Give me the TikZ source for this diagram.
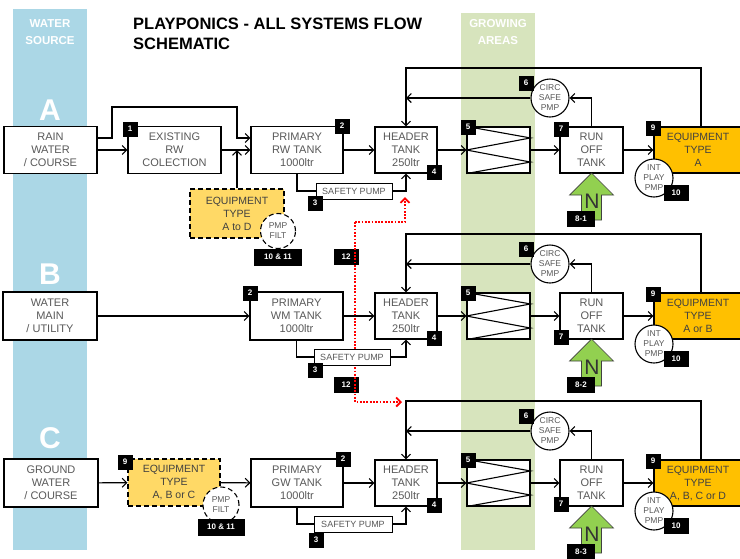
\documentclass[tikz,border=0pt]{standalone}
\usepackage{fontspec}
\setmainfont{Liberation Sans}
\usetikzlibrary{arrows.meta}
\definecolor{srcblue}{HTML}{ABD7E6}
\definecolor{growgreen}{HTML}{D7E4BD}
\definecolor{eqorange}{HTML}{FFC000}
\definecolor{eqlight}{HTML}{FFD966}
\definecolor{ngreen}{HTML}{92D050}
\definecolor{txtgrey}{HTML}{595959}
\begin{document}
\begin{tikzpicture}[x=1pt,y=-1pt,
    box/.style={draw,line width=1.1pt,fill=white,align=center,inner sep=0pt,text=txtgrey,font=\fontsize{11}{13}\selectfont},
    eqbox/.style={box,fill=eqorange,text=black!75,font=\fontsize{10.5}{13}\selectfont},
    dashbox/.style={box,fill=eqlight,text=black!75,dash pattern=on 5pt off 3pt,font=\fontsize{10.5}{13}\selectfont},
    safebox/.style={box,line width=0.9pt,font=\fontsize{9}{10}\selectfont,minimum height=16pt},
    pump/.style={circle,draw,line width=1.1pt,fill=white,align=center,inner sep=0pt,minimum size=38pt,text=txtgrey,font=\fontsize{8.5}{10}\selectfont},
    badge/.style={fill=black,text=white,inner sep=0pt,minimum width=15pt,minimum height=15pt,font=\bfseries\fontsize{8}{9}\selectfont},
    wbadge/.style={badge,minimum width=25pt,minimum height=16pt},
    flow/.style={line width=1.1pt,-{Straight Barb[length=4.5pt,width=9pt]}},
    pipe/.style={line width=1.1pt},
    redflow/.style={red,line width=1.8pt,dash pattern=on 1.8pt off 1.5pt,-{Straight Barb[length=4.5pt,width=9pt]}},
    band/.style={text=white,align=center,font=\bfseries\fontsize{11.5}{17}\selectfont},
    bigletter/.style={text=white,font=\bfseries\fontsize{30}{30}\selectfont}
  ]
  \useasboundingbox (0,0) rectangle (740,558);
  \fill[srcblue] (13,9) rectangle (87,550);
  \fill[growgreen] (461,13) rectangle (535,550);
  \node[band] (srctitle) at (50,32) {WATER\\SOURCE};
  \node[band] (growtitle) at (498,32) {GROWING\\AREAS};
  \node[anchor=west,align=left,inner sep=0pt,font=\bfseries\fontsize{16.5}{20}\selectfont] (title) at (133,34) {PLAYPONICS - ALL SYSTEMS FLOW\\SCHEMATIC};
  \node[bigletter] (letA) at (50,110) {A};
  \node[bigletter] (letB) at (50,274) {B};
  \node[bigletter] (letC) at (50,438) {C};

  \foreach \r/\y/\eqtxt/\sev/\n in {A/150/A/-21/1, B/316/A or B/21/2, C/483/{A, B, C or D}/21/3} {
    \node[box,minimum width=62pt,minimum height=46pt] (hdr\r) at (406,\y) {HEADER\\TANK\\250ltr};
    \node[box,minimum width=63pt,minimum height=46pt] (grow\r) at (498.5,\y) {};
    \draw[pipe] (grow\r.north west) -- ([yshift=-11.5pt]grow\r.north east) -- (grow\r.west)
      -- ([yshift=11.5pt]grow\r.south east) -- (grow\r.south west);
    \node[box,minimum width=63pt,minimum height=46pt] (run\r) at (591.5,\y) {RUN\\OFF\\TANK};
    \node[eqbox,minimum width=88pt,minimum height=46pt] (eq\r) at (698,\y) {EQUIPMENT\\TYPE\\\eqtxt};
    \node[pump] (circ\r) at (550,{\y-52}) {CIRC\\SAFE\\PMP};
    \node[pump] (int\r) at (654,{\y+28}) {INT\\PLAY\\PMP};
    \coordinate (loop\r) at (406,{\y-82});
    \draw[flow] (hdr\r) -- (grow\r);
    \draw[flow] (grow\r) -- (run\r);
    \draw[flow] (run\r) -- (eq\r);
    \draw[flow] (run\r.north) |- (circ\r.east);
    \draw[flow] (circ\r.west) -- (hdr\r.north |- circ\r.west);
    \draw[flow] ([xshift=3pt]eq\r.north) |- (loop\r) -- (hdr\r.north);
    \draw[fill=ngreen,draw=black!75,line width=0.7pt] (591.5,{\y+23}) -- ++(22,22) -- ++(-12,0) -- ++(0,25)
      -- ++(-20,0) -- ++(0,-25) -- ++(-12,0) -- cycle;
    \node[text=black!80,font=\fontsize{21}{21}\selectfont] (n\r) at (592,{\y+51}) {N};
    \node[badge] (b4\r) at (434,{\y+22}) {4};
    \node[badge] (b5\r) at (468,{\y-23}) {5};
    \node[badge] (b6\r) at (526,{\y-67}) {6};
    \node[badge] (b7\r) at (561,{\y+\sev}) {7};
    \node[badge] (b9\r) at (653,{\y-22}) {9};
    \node[wbadge] (b10\r) at (676,{\y+43}) {10};
    \node[wbadge,minimum width=28pt] (b8\r) at (581,{\y+69}) {8-\n};
  }

  \node[wbadge] (b12a) at (346,257) {12};
  \node[wbadge] (b12b) at (346,385) {12};
  \coordinate (redsplit) at (355,222);
  \coordinate (redA) at (405,197);
  \coordinate (redC) at (402,402);
  \draw[redflow] (redsplit) -| (redA);
  \draw[redflow] (redsplit) |- (redC);

  \node[box,minimum width=93pt,minimum height=47pt] (srcA) at (50.5,150) {RAIN\\WATER\\/ COURSE};
  \node[box,minimum width=93pt,minimum height=47pt] (exist) at (174.5,150) {EXISTING\\RW\\COLECTION};
  \node[box,minimum width=92pt,minimum height=47pt] (primA) at (297,150) {PRIMARY\\RW TANK\\1000ltr};
  \node[safebox,minimum width=76pt] (safeA) at (354,191) {SAFETY PUMP};
  \node[dashbox,minimum width=94pt,minimum height=49pt] (eqAD) at (237,213.5) {EQUIPMENT\\TYPE\\A to D};
  \node[pump,dash pattern=on 5pt off 3pt,minimum size=35pt] (filtA) at (278,231) {PMP\\FILT};
  \draw[flow] (srcA) -- (exist);
  \draw[flow] ([yshift=12pt]srcA.east) -- (112,138) -- (112,107) -- (237,107) -- (237,138) -- ([yshift=12pt]primA.west);
  \draw[flow] (exist) -- (primA);
  \draw[flow] (eqAD.north) -- (eqAD.north |- exist.east);
  \draw[flow] (primA) -- (hdrA);
  \draw[pipe] (primA.south) |- (safeA.west);
  \draw[flow] (safeA.east) -| (hdrA.south);
  \node[badge] (b1) at (130,129) {1};
  \node[badge] (b2A) at (342,126) {2};
  \node[badge] (b3A) at (315,203) {3};
  \node[wbadge,minimum width=48pt,minimum height=17pt] (b1011A) at (278,257) {10 \& 11};

  \node[box,minimum width=94pt,minimum height=48pt] (srcB) at (50,316) {WATER\\MAIN\\/ UTILITY};
  \node[box,minimum width=93pt,minimum height=48pt] (primB) at (296.5,316) {PRIMARY\\WM TANK\\1000ltr};
  \node[safebox,minimum width=76pt] (safeB) at (352,357) {SAFETY PUMP};
  \draw[flow] (srcB) -- (primB);
  \draw[flow] (primB) -- (hdrB);
  \draw[pipe] (primB.south) |- (safeB.west);
  \draw[flow] (safeB.east) -| (hdrB.south);
  \node[badge] (b2B) at (250,293) {2};
  \node[badge] (b3B) at (315,370) {3};

  \node[box,minimum width=94pt,minimum height=48pt] (srcC) at (51,483) {GROUND\\WATER\\/ COURSE};
  \node[dashbox,minimum width=92pt,minimum height=47pt] (eqABC) at (174,482.5) {EQUIPMENT\\TYPE\\A, B or C};
  \node[pump,dash pattern=on 5pt off 3pt,minimum size=36pt] (filtC) at (221,505) {PMP\\FILT};
  \node[box,minimum width=92pt,minimum height=48pt] (primC) at (297,483) {PRIMARY\\GW TANK\\1000ltr};
  \node[safebox,minimum width=78pt] (safeC) at (353,524) {SAFETY PUMP};
  \draw[flow] (srcC) -- (eqABC);
  \draw[flow] (eqABC) -- (primC);
  \draw[flow] (primC) -- (hdrC);
  \draw[pipe] (primC.south) |- (safeC.west);
  \draw[flow] (safeC.east) -| (hdrC.south);
  \node[badge] (b9C) at (125,462) {9};
  \node[badge] (b2C) at (343,459) {2};
  \node[badge] (b3C) at (316,540) {3};
  \node[wbadge,minimum width=47pt,minimum height=17pt] (b1011C) at (221,527) {10 \& 11};
\end{tikzpicture}
\end{document}
